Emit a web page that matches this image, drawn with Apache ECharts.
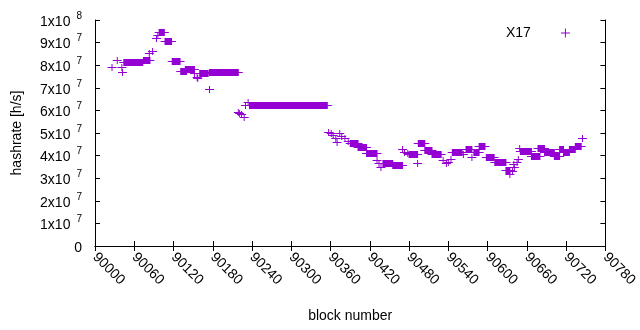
<!DOCTYPE html>
<html>
<head>
<meta charset="utf-8">
<title>hashrate</title>
<script src="https://cdn.jsdelivr.net/npm/echarts@6/dist/echarts.min.js"></script>
<style>
  html, body { margin: 0; padding: 0; background: #fff; }
  #chart { width: 640px; height: 330px; }
</style>
</head>
<body>
<div id="chart"></div>
<script>
// runs of blocks with the same hashrate (start block, end block, h/s)
const runStart = [
  90026, 90034, 90041, 90042, 90044, 90074, 90083, 90088, 90094, 90096,
  90098, 90107, 90118, 90131, 90138, 90152, 90156, 90157, 90160, 90175,
  90175, 90219, 90221, 90224, 90228, 90230, 90234, 90236, 90357, 90361,
  90364, 90368, 90370, 90374, 90377, 90382, 90387, 90390, 90402, 90415,
  90431, 90434, 90437, 90440, 90455, 90470, 90473, 90478, 90480, 90493,
  90494, 90504, 90515, 90532, 90537, 90540, 90544, 90546, 90563, 90567,
  90576, 90579, 90587, 90598, 90611, 90628, 90634, 90638, 90640, 90641,
  90645, 90647, 90649, 90650, 90667, 90677, 90687, 90702, 90710, 90716,
  90725, 90734, 90745
]
const runEnd = [
  90026, 90034, 90041, 90042, 90073, 90084, 90083, 90088, 90094, 90096,
  90106, 90117, 90130, 90140, 90152, 90152, 90156, 90157, 90173, 90175,
  90219, 90219, 90221, 90224, 90228, 90230, 90234, 90355, 90357, 90361,
  90364, 90368, 90370, 90374, 90377, 90382, 90387, 90402, 90415, 90431,
  90431, 90434, 90437, 90455, 90470, 90470, 90473, 90478, 90493, 90493,
  90504, 90515, 90529, 90532, 90537, 90540, 90544, 90561, 90563, 90576,
  90576, 90587, 90596, 90610, 90628, 90634, 90634, 90638, 90640, 90641,
  90645, 90647, 90649, 90667, 90680, 90687, 90702, 90710, 90716, 90725,
  90734, 90743, 90745
]
const hashrate = [
  79.3e6, 82.3e6, 79.3e6, 77.1e6, 81.2e6, 82.3e6, 85.3e6, 86.4e6, 91.9e6, 93.4e6,
  94.5e6, 90.6e6, 81.8e6, 77.3e6, 78.2e6, 76.4e6, 74.9e6, 74.2e6, 76.4e6, 69.3e6,
  76.8e6, 59.4e6, 59.0e6, 58.2e6, 57.2e6, 62.6e6, 63.5e6, 62.2e6, 50.6e6, 50.1e6,
  49.1e6, 47.6e6, 46.1e6, 50.1e6, 48.7e6, 47.6e6, 46.6e6, 45.4e6, 43.7e6, 41.0e6,
  38.1e6, 36.6e6, 35.1e6, 36.6e6, 35.8e6, 42.8e6, 41.7e6, 41.0e6, 40.8e6, 36.6e6,
  45.4e6, 42.5e6, 40.7e6, 38.1e6, 36.6e6, 37.3e6, 38.4e6, 41.5e6, 40.6e6, 42.9e6,
  39.5e6, 41.5e6, 44.1e6, 39.5e6, 37.0e6, 33.6e6, 31.9e6, 33.0e6, 36.2e6, 35.1e6,
  37.0e6, 38.6e6, 43.2e6, 41.9e6, 40.0e6, 43.2e6, 41.5e6, 39.7e6, 42.8e6, 41.6e6,
  42.9e6, 44.1e6, 47.6e6
]

const xMin = 90000
const xMax = 90780
const xStep = 60
const yMax = 1e8
const yStep = 1e7

const FONT = 'Liberation Sans'
const PURPLE = '#9400d3'

const chart = echarts.init(document.getElementById('chart'), null, { renderer: 'canvas' })

const data = runStart.map((s, i) => [s, runEnd[i], hashrate[i]])

// a '+' per block: consecutive crosses merge into a bar with arms at both ends
const renderRun = (params, api) => {
  const a = api.coord([api.value(0), api.value(2)])
  const b = api.coord([api.value(1), api.value(2)])
  const y = Math.round(a[1]) + 0.5
  return {
    type: 'group',
    children: [
      {
        type: 'rect',
        shape: { x: a[0] - 0.5, y: y - 3.5, width: b[0] - a[0] + 1, height: 7 },
        style: { fill: PURPLE }
      },
      {
        type: 'line',
        shape: { x1: a[0] - 4.5, y1: y, x2: b[0] + 4.5, y2: y },
        style: { stroke: PURPLE, lineWidth: 1 }
      }
    ]
  }
}

const yLabel = (v) => {
  if (v === 0) return '{m|0}'
  const exp = Math.floor(Math.log10(v) + 1e-9)
  const mant = Math.round(v / Math.pow(10, exp))
  return '{m|' + mant + 'x10}{s|' + exp + '}'
}

const axisLine = { show: true, lineStyle: { color: '#000', width: 1 } }
const tick = { show: true, inside: true, length: 5, lineStyle: { color: '#000' } }

const option = {
  animation: false,
  grid: { left: 95, right: 31, top: 20, bottom: 84 },
  legend: {
    left: 501,
    top: 21,
    align: 'right',
    itemWidth: 9,
    itemHeight: 9,
    textStyle: { fontFamily: FONT, fontSize: 14, color: '#000', padding: [0, 25, 0, 0] },
    data: [{ name: 'X17', icon: 'path://M4,0h1v4h4v1h-4v4h-1v-4h-4v-1h4z' }]
  },
  xAxis: [
    {
      type: 'value',
      min: xMin,
      max: xMax,
      interval: xStep,
      name: 'block number',
      nameLocation: 'middle',
      nameGap: 63,
      nameTextStyle: { fontFamily: FONT, fontSize: 14, color: '#000' },
      axisLine: axisLine,
      axisTick: tick,
      splitLine: { show: false },
      axisLabel: {
        rotate: -45,
        margin: 9,
        fontFamily: FONT,
        fontSize: 14,
        color: '#000',
        showMinLabel: true,
        showMaxLabel: true,
        formatter: (v) => String(v)
      }
    },
    {
      type: 'value',
      position: 'top',
      min: xMin,
      max: xMax,
      interval: xStep,
      axisLine: axisLine,
      axisTick: tick,
      axisLabel: { show: false },
      splitLine: { show: false }
    }
  ],
  yAxis: [
    {
      type: 'value',
      min: 0,
      max: yMax,
      interval: yStep,
      name: 'hashrate [h/s]',
      nameLocation: 'middle',
      nameGap: 71,
      nameTextStyle: { fontFamily: FONT, fontSize: 14, color: '#000' },
      axisLine: axisLine,
      axisTick: tick,
      splitLine: { show: false },
      axisLabel: {
        margin: 13,
        formatter: yLabel,
        rich: {
          m: { fontFamily: FONT, fontSize: 14, color: '#000', lineHeight: 18, verticalAlign: 'bottom' },
          s: { fontFamily: FONT, fontSize: 10, color: '#000', lineHeight: 10, verticalAlign: 'top', padding: [0, 0, 0, 6] }
        }
      }
    },
    {
      type: 'value',
      position: 'right',
      min: 0,
      max: yMax,
      interval: yStep,
      axisLine: axisLine,
      axisTick: tick,
      axisLabel: { show: false },
      splitLine: { show: false }
    }
  ],
  series: [
    {
      name: 'X17',
      type: 'custom',
      itemStyle: { color: PURPLE },
      renderItem: renderRun,
      encode: { x: [0, 1], y: 2 },
      data: data
    }
  ]
}

chart.setOption(option)
</script>
</body>
</html>
